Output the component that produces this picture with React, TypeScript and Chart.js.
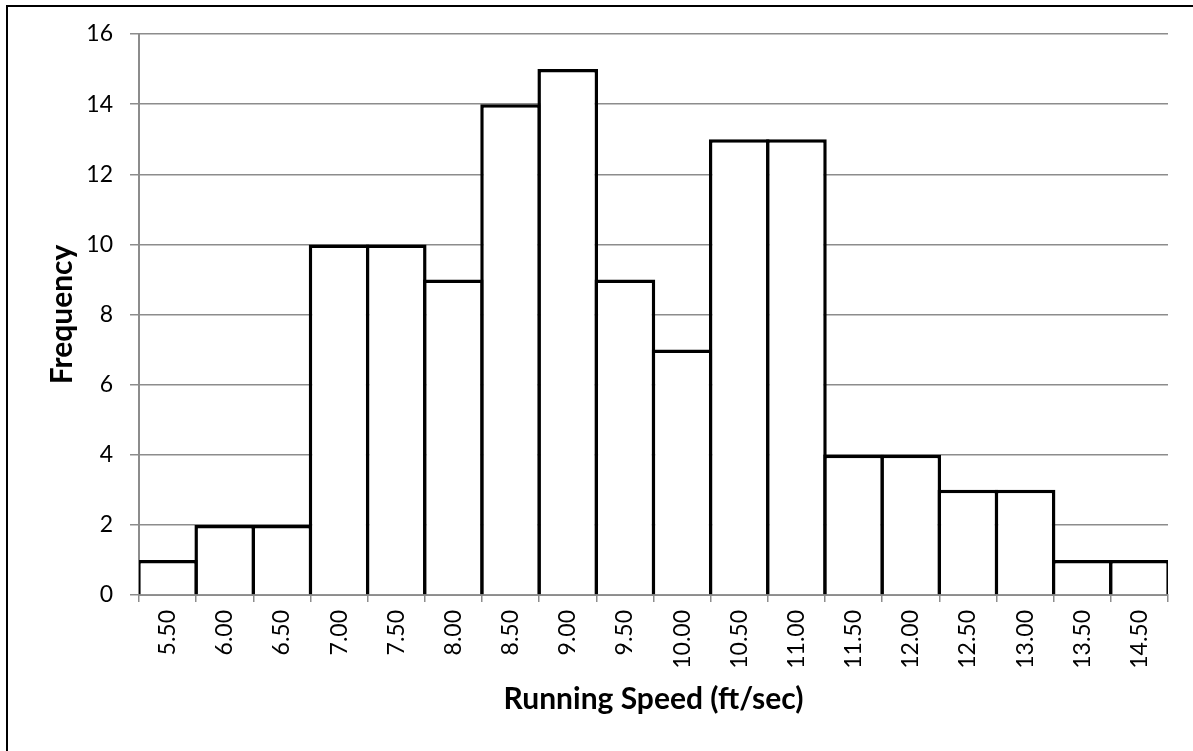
import React, { useEffect, useRef } from "react";
import { Chart, registerables } from "chart.js";

Chart.register(...registerables);

const categories = ["5.50","6.00","6.50","7.00","7.50","8.00","8.50","9.00","9.50","10.00","10.50","11.00","11.50","12.00","12.50","13.00","13.50","14.50"];
const frequencies = [1,2,2,10,10,9,14,15,9,7,13,13,4,4,3,3,1,1];
const yTickMax = 16;
const yTickStep = 2;

const FONT = "Lato, 'Open Sans', sans-serif";

export default function App() {
  const ref = useRef<HTMLCanvasElement | null>(null);
  useEffect(() => {
    if (!ref.current) return;
    const chart = new Chart(ref.current, {
      type: "bar",
      data: {
        labels: categories,
        datasets: [
          {
            data: frequencies,
            backgroundColor: "#ffffff",
            borderColor: "#000000",
            borderWidth: 3.5,
            inflateAmount: 0,
            barPercentage: 1.061,
            categoryPercentage: 1,
          } as any,
        ],
      },
      options: {
        animation: false,
        responsive: false,
        maintainAspectRatio: false,
        layout: { padding: { left: 0, top: 34, right: 25, bottom: 0 } },
        plugins: { legend: { display: false }, tooltip: { enabled: false } },
        scales: {
          x: {
            offset: true,
            grid: {
              offset: true,
              drawOnChartArea: false,
              drawTicks: true,
              tickLength: 7,
              color: "#8c8c8c",
              lineWidth: 1.5,
            },
            border: { display: true, color: "#8c8c8c", width: 2 },
            ticks: {
              color: "#000",
              font: { family: FONT, size: 23 },
              minRotation: 90,
              maxRotation: 90,
              padding: 8,
              autoSkip: false,
            },
            title: {
              display: true,
              text: "Running Speed (ft/sec)",
              color: "#000",
              font: { family: FONT, size: 30, weight: "bold" },
              padding: { top: 0, bottom: 34 },
            },
            afterFit: (scale: any) => {
              scale.height = 156;
            },
          },
          y: {
            min: 0,
            max: yTickMax,
            ticks: {
              stepSize: yTickStep,
              color: "#000",
              font: { family: FONT, size: 23 },
              padding: 17,
            },
            grid: {
              color: "#8c8c8c",
              lineWidth: 1.5,
              tickLength: 9,
              drawTicks: true,
            },
            border: { display: true, color: "#8c8c8c", width: 2 },
            title: {
              display: true,
              text: "Frequency",
              color: "#000",
              font: { family: FONT, size: 30, weight: "bold" },
              padding: { top: 44, bottom: 0 },
            },
            afterFit: (scale: any) => {
              scale.width = 139;
            },
          },
        },
      },
    });
    return () => chart.destroy();
  }, []);

  return (
    <div style={{ position: "absolute", left: 0, top: 0, width: 1193, height: 751, overflow: "hidden", background: "#fff" }}>
      <div
        style={{
          position: "absolute",
          left: 6,
          top: 5,
          width: 1250,
          height: 800,
          border: "2px solid #000",
          boxSizing: "border-box",
        }}
      />
      <canvas ref={ref} width={1193} height={751} style={{ position: "absolute", left: 0, top: 0, display: "block" }} />
    </div>
  );
}
